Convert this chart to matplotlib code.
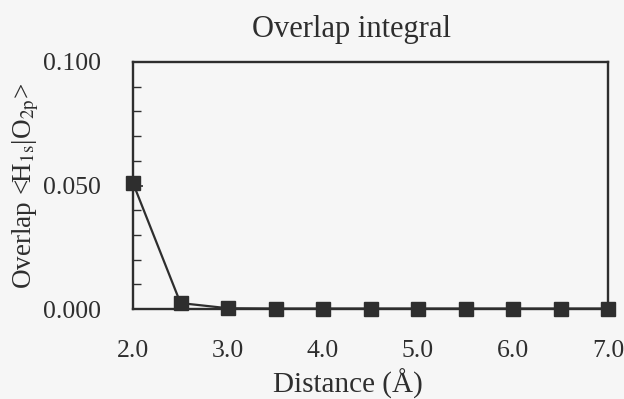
import numpy as np
import matplotlib.pyplot as plt
from matplotlib.ticker import MultipleLocator

plt.rcParams['font.family'] = ['Liberation Serif', 'DejaVu Serif']
plt.rcParams['mathtext.fontset'] = 'stix'

# Data
distance = [2.0, 2.5, 3.0, 3.5, 4.0, 4.5, 5.0, 5.5, 6.0, 6.5, 7.0]
overlap = [0.051, 0.0024, 0.0003, 0.0002, 0.0002, 0.0002, 0.0002, 0.0002, 0.0002, 0.0002, 0.0002]
xticks = [2.0, 3.0, 4.0, 5.0, 6.0, 7.0]

ink = '#2e2e2e'
fig = plt.figure(figsize=(6.24, 3.99), dpi=100, facecolor='#f6f6f6')
ax = fig.add_axes([133 / 624, 1 - 309 / 399, 475 / 624, 247 / 399])
ax.set_facecolor('#f6f6f6')

ax.plot(distance, overlap, color=ink, linewidth=1.6, marker='s', markersize=9.5,
        markerfacecolor=ink, markeredgecolor=ink, clip_on=False, zorder=3)

ax.set_xlim(2.0, 7.0)
ax.set_ylim(0.0, 0.1)
ax.set_xticks(xticks)
ax.set_xticklabels([f'{v:.1f}' for v in xticks])
ax.set_yticks([0.0, 0.05, 0.1])
ax.set_yticklabels(['0.000', '0.050', '0.100'])
ax.yaxis.set_minor_locator(MultipleLocator(0.01))
ax.tick_params(axis='x', length=0, pad=22, labelsize=18.5, colors=ink)
ax.tick_params(axis='y', which='major', direction='in', length=7, width=1.2,
               pad=23, labelsize=18.5, colors=ink, right=False)
ax.tick_params(axis='y', which='minor', direction='in', length=6, width=1.0,
               colors=ink, right=False)

for s in ax.spines.values():
    s.set_color(ink)
    s.set_linewidth(1.7)

ax.set_title('Overlap integral', fontsize=22, color=ink, pad=18, x=0.459)
ax.set_xlabel('Distance (Å)', fontsize=21, color=ink)
ax.xaxis.set_label_coords(0.453, -0.243)
ax.set_ylabel(r'Overlap <H$_{\rm 1s}$|O$_{\rm 2p}$>', fontsize=19.5, color=ink, labelpad=1.5)

fig.savefig('out.png', dpi=100, facecolor=fig.get_facecolor())
